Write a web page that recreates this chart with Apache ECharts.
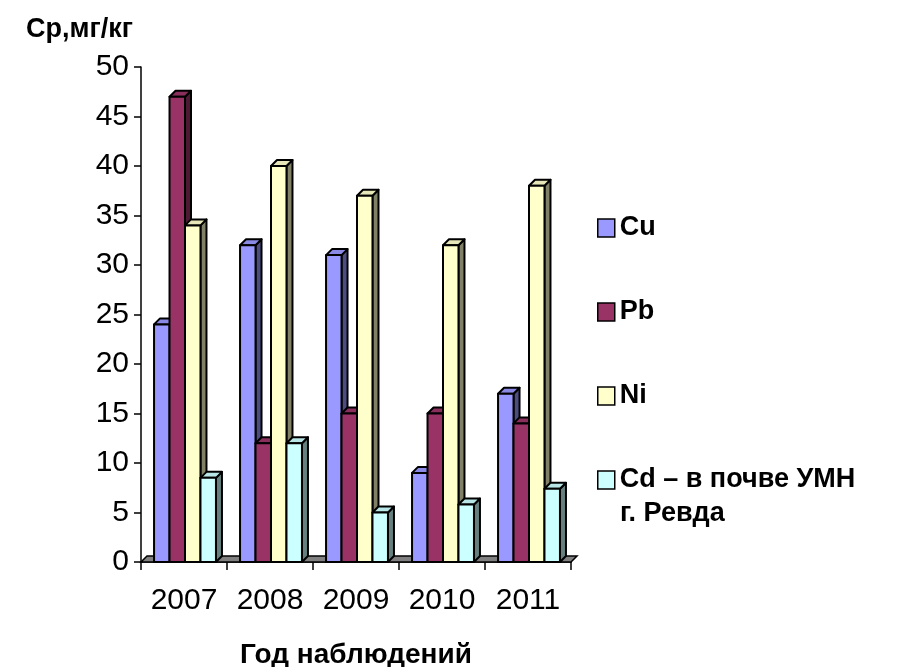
<!DOCTYPE html>
<html>
<head>
<meta charset="utf-8">
<script src="https://cdn.jsdelivr.net/npm/echarts@6/dist/echarts.min.js"></script>
<style>
  html, body { margin: 0; padding: 0; background: #fff; }
  #chart { width: 906px; height: 667px; }
</style>
</head>
<body>
<div id="chart"></div>
<script>
var years = ['2007', '2008', '2009', '2010', '2011'];
var cuValues = [24, 32, 31, 9, 17];
var pbValues = [47, 12, 15, 15, 14];
var niValues = [34, 40, 37, 32, 38];
var cdValues = [8.5, 12, 5, 5.8, 7.4];
var seriesNames = ['Cu', 'Pb', 'Ni', 'Cd – в почве УМН'];
var cdNameTail = 'г. Ревда';
var yMin = 0, yMax = 50, yStep = 5;

var frontColors = ['#9999FF', '#993366', '#FFFFCC', '#CCFFFF'];
var topColors = ['#8A8AE6', '#8A2E5C', '#E6E6B8', '#B8E6E6'];
var sideColors = ['#4D4D80', '#4D1A33', '#808066', '#668080'];
var FONT = 'Liberation Sans, Arial, sans-serif';
var DEPTH = 6;

// 3d-looking bar: front face + top + right side
function barRenderer(idx) {
  return function (params, api) {
    var cat = api.value(0);
    var top = api.coord([cat, api.value(1)]);
    var base = api.coord([cat, 0]);
    var w = api.size([1, 0])[0] * 0.18;
    var x = base[0] - 2 * w + 1 + idx * w;
    var t = top[1], b = base[1], d = DEPTH;
    var edge = { stroke: '#000', lineWidth: 2, lineJoin: 'round' };
    return {
      type: 'group',
      children: [
        { type: 'polygon', shape: { points: [[x + w, t], [x + w + d, t - d], [x + w + d, b - d], [x + w, b]] },
          style: Object.assign({ fill: sideColors[idx] }, edge) },
        { type: 'polygon', shape: { points: [[x, t], [x + d, t - d], [x + w + d, t - d], [x + w, t]] },
          style: Object.assign({ fill: topColors[idx] }, edge) },
        { type: 'rect', shape: { x: x, y: t, width: w, height: b - t },
          style: Object.assign({ fill: frontColors[idx] }, edge) }
      ]
    };
  };
}

function floorRenderer(params, api) {
  var cs = params.coordSys;
  var x0 = cs.x, x1 = cs.x + cs.width, yb = cs.y + cs.height, d = DEPTH;
  return {
    type: 'polygon',
    shape: { points: [[x0, yb], [x0 + d, yb - d], [x1 + d, yb - d], [x1, yb]] },
    style: { fill: '#808080', stroke: '#000', lineWidth: 1.5 }
  };
}

function toData(values) {
  return values.map(function (v, i) { return [i, v]; });
}

var valueLists = [cuValues, pbValues, niValues, cdValues];

var series = [{
  type: 'custom',
  name: 'floor',
  silent: true,
  renderItem: floorRenderer,
  data: [[0, 0]],
  z: 1
}];
valueLists.forEach(function (vals, i) {
  series.push({
    type: 'custom',
    name: seriesNames[i],
    renderItem: barRenderer(i),
    itemStyle: { color: frontColors[i] },
    encode: { x: 0, y: 1 },
    data: toData(vals),
    z: 2
  });
});

var chart = echarts.init(document.getElementById('chart'), null, { renderer: 'canvas' });

chart.setOption({
  animation: false,
  backgroundColor: '#fff',
  grid: { left: 141, right: 335, top: 67, bottom: 105, outerBoundsMode: 'none' },
  legend: {
    orient: 'vertical',
    left: 597,
    top: 212,
    padding: 0,
    itemWidth: 17,
    itemHeight: 18,
    itemGap: 52,
    icon: 'rect',
    selectedMode: false,
    itemStyle: { borderColor: '#000', borderWidth: 1.5 },
    textStyle: { fontFamily: FONT, fontSize: 27, fontWeight: 'bold', color: '#000', lineHeight: 32 },
    data: seriesNames
  },
  // second line of the Cd legend entry
  graphic: [{
    type: 'text',
    left: 620,
    top: 500,
    style: { text: cdNameTail, font: 'bold 27px ' + FONT, fill: '#000' }
  }],
  xAxis: {
    type: 'category',
    data: years,
    boundaryGap: true,
    name: 'Год наблюдений',
    nameLocation: 'middle',
    nameGap: 79,
    nameTextStyle: { fontFamily: FONT, fontSize: 28, fontWeight: 'bold', color: '#000' },
    axisLine: { show: true, lineStyle: { color: '#000', width: 1.5 } },
    axisTick: { show: true, length: 8, lineStyle: { color: '#000', width: 1.5 } },
    axisLabel: { fontFamily: FONT, fontSize: 30, color: '#000', margin: 24, interval: 0 },
    splitLine: { show: false }
  },
  yAxis: {
    type: 'value',
    min: yMin,
    max: yMax,
    interval: yStep,
    name: 'Ср,мг/кг',
    nameLocation: 'end',
    nameGap: 37,
    nameTextStyle: { fontFamily: FONT, fontSize: 27, fontWeight: 'bold', color: '#000',
      align: 'right', verticalAlign: 'middle', padding: [0, 8, 0, 0] },
    axisLine: { show: true, lineStyle: { color: '#000', width: 1.5 } },
    axisTick: { show: true, length: 7, lineStyle: { color: '#000', width: 1.5 } },
    axisLabel: { fontFamily: FONT, fontSize: 30, color: '#000', margin: 12 },
    splitLine: { show: false }
  },
  series: series
});
</script>
</body>
</html>
